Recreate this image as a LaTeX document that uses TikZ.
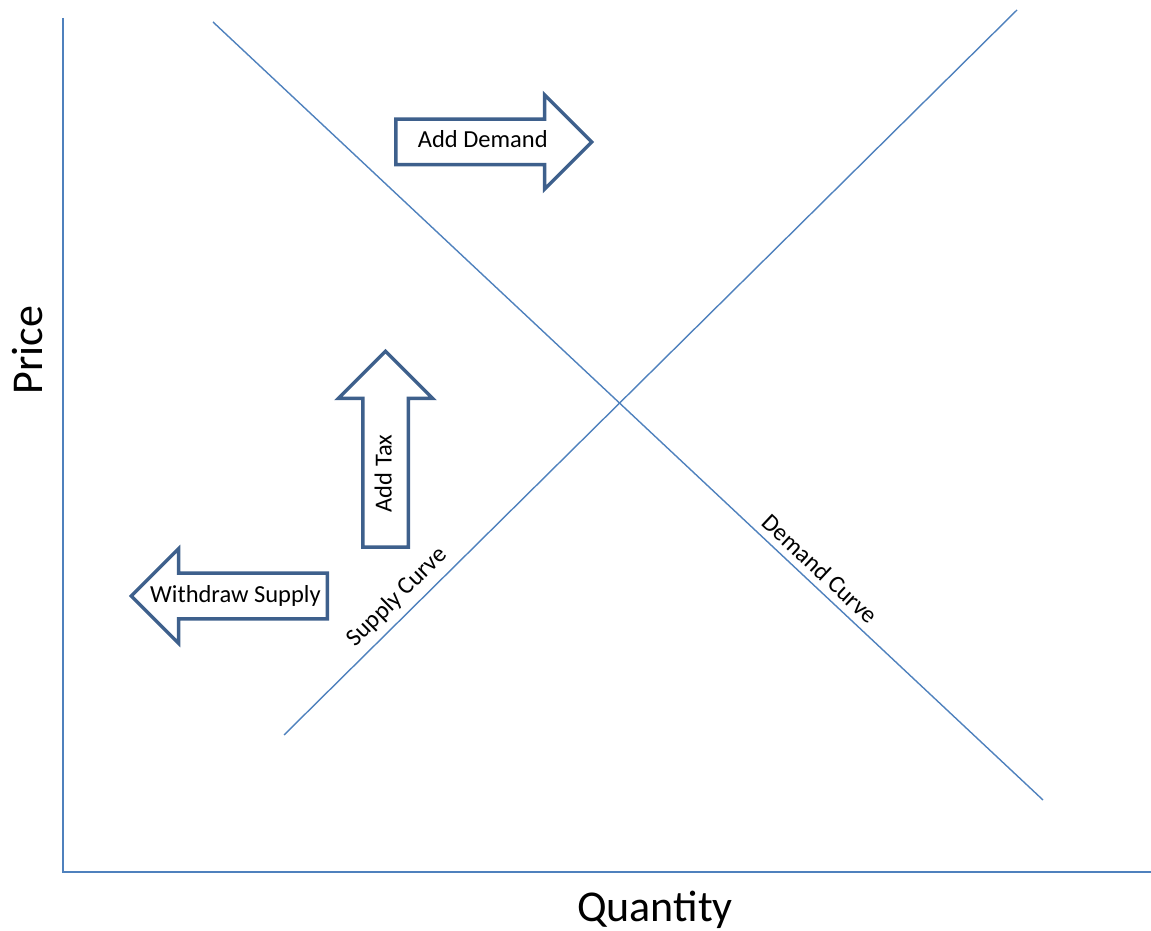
\documentclass[tikz,border=0pt]{standalone}
\usepackage{fontspec}
\setmainfont{Carlito}
\usepackage{tikz}
\usetikzlibrary{shapes.arrows,positioning,calc}
\definecolor{curveblue}{RGB}{79,129,189}
\definecolor{arrowblue}{RGB}{62,96,140}

\begin{document}
\begin{tikzpicture}[
  x=1pt,y=1pt,
  curve/.style={draw=curveblue,line width=1.4pt},
  shiftarr/.style={single arrow,draw=arrowblue,line width=3.5pt,fill=white,
                   single arrow head extend=24.5pt,minimum height=196pt,
                   text height=17pt,text depth=5pt,inner ysep=10pt,inner xsep=0pt,
                   font=\fontsize{24.5}{28}\selectfont},
  lbl/.style={font=\fontsize{24.5}{28}\selectfont,inner sep=2pt},
  axlbl/.style={font=\fontsize{44}{50}\selectfont},
]
\useasboundingbox (0,0) rectangle (1151,930);

%% Axes
\coordinate (O) at (63,58);
\coordinate (ytop) at (63,912);
\coordinate (xend) at (1151,58);
\draw[curve] (ytop) -- (O) -- (xend);
\node[axlbl,rotate=90] (price) at (28,580) {Price};
\node[axlbl,anchor=base] (qty) at (655,9) {Quantity};

%% Demand and supply curves
\coordinate (d1) at (213,908);
\coordinate (d2) at (1043,130);
\coordinate (s1) at (284,195);
\coordinate (s2) at (1017,920);
\draw[curve] (d1) -- (d2)
  node[lbl,pos=0.718,sloped,above=5pt] (dlbl) {Demand Curve};
\draw[curve] (s1) -- (s2)
  node[lbl,pos=0.172,sloped,above=5pt] (slbl) {Supply Curve};

%% Shift arrows
\node[shiftarr,anchor=tail] (adddemand) at (394,788)
  {\makebox[151pt][l]{\hspace{11pt}Add Demand}};
\node[shiftarr,anchor=tail,rotate=90] (addtax) at (385.5,381)
  {\makebox[151pt][c]{Add Tax\hspace{26pt}}};
\node[shiftarr,anchor=tail,shape border rotate=180] (withdraw) at (329,334)
  {\makebox[151pt][l]{\hspace{-15pt}Withdraw Supply}};

\end{tikzpicture}
\end{document}
